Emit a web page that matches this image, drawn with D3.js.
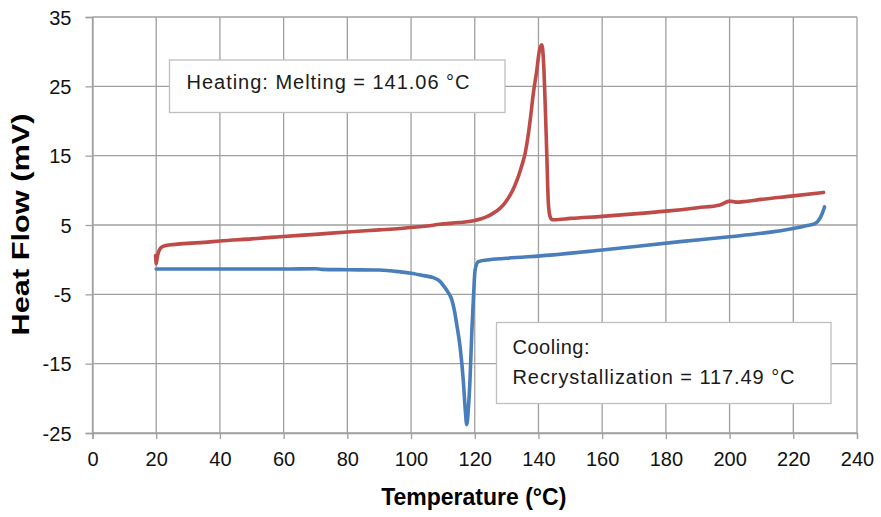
<!DOCTYPE html>
<html>
<head>
<meta charset="utf-8">
<script src="https://cdn.jsdelivr.net/npm/d3@7/dist/d3.min.js"></script>
<style>
  html, body { margin: 0; padding: 0; background: #ffffff; }
  svg { display: block; }
</style>
</head>
<body>
<svg id="chart" width="881" height="517"></svg>
<script>
// DSC trace: heating (melting endotherm drawn upward) and cooling (recrystallization)
const heatTemp = [19.8, 20.0, 20.3, 20.8, 21.5, 23, 26, 30, 35, 40, 50, 60, 70, 80, 90, 96.5,
  105, 109, 115, 119.6, 122, 123.8, 126, 127.9, 129.5, 131.1, 132.5, 133.7, 134.8, 135.8,
  136.6, 137.4, 138.4, 139.5, 140.3, 141.06, 141.6, 142.1, 142.6, 143.1, 143.6, 144.2,
  145, 150, 160, 170, 180, 190, 197, 200, 202, 205, 210, 220, 229.5];
const heatFlow = [0.6, -0.6, 0.3, 1.2, 1.75, 2.05, 2.2, 2.35, 2.5, 2.7, 3.0, 3.35, 3.65, 4.0, 4.3, 4.5,
  4.85, 5.1, 5.35, 5.6, 5.9, 6.2, 6.75, 7.4, 8.2, 9.3, 10.6, 12.0, 13.6, 15.3,
  17.4, 20.1, 24.0, 27.4, 30.2, 31.0, 28.5, 22.6, 15.4, 8.2, 6.3, 5.8,
  5.75, 5.95, 6.25, 6.6, 7.0, 7.5, 7.9, 8.45, 8.3, 8.4, 8.7, 9.2, 9.7];

const coolTemp = [20, 30, 40, 50, 60, 70, 72, 80, 90, 96.5, 100, 104, 107, 109, 110.1, 111.5,
  112.8, 113.6, 114.3, 115.4, 116.4, 117.0, 117.49, 118.0, 118.5, 119.1, 119.6, 120.1,
  121.1, 123.8, 130, 143.6, 160, 184.5, 200, 210, 220, 224, 226.8, 228.4, 229.2, 229.8];
const coolFlow = [-1.35, -1.35, -1.35, -1.35, -1.35, -1.3, -1.4, -1.45, -1.5, -1.75, -1.95, -2.3, -2.6, -3.1, -3.7, -4.6,
  -5.8, -7.3, -9.2, -12.6, -17.4, -21.5, -23.8, -21.5, -17.4, -10.2, -5.4, -1.5,
  -0.3, -0.05, 0.2, 0.65, 1.4, 2.6, 3.3, 3.8, 4.5, 4.9, 5.2, 6.0, 6.8, 7.6];

const xTicks = [0, 20, 40, 60, 80, 100, 120, 140, 160, 180, 200, 220, 240];
const yTicks = [-25, -15, -5, 5, 15, 25, 35];

const heatingNote = ["Heating:  Melting = 141.06 °C"];
const coolingNote = ["Cooling:", "Recrystallization = 117.49 °C"];

const W = 881, H = 517;
const margin = { left: 92.5, right: 24, top: 17, bottom: 84 };
const svg = d3.select("#chart");

const x = d3.scaleLinear().domain([0, 240]).range([margin.left, W - margin.right]);
const y = d3.scaleLinear().domain([-25, 35]).range([H - margin.bottom, margin.top]);

const gridColor = "#a0a0a0";
const labelFont = "'Liberation Sans', Arial, sans-serif";
const plainNumber = d => String(d); // hyphen-minus, as on the printed axis

// gridlines
const grid = svg.append("g");
grid.selectAll("line.h").data(yTicks).join("line")
  .attr("x1", x(0)).attr("x2", x(240))
  .attr("y1", d => y(d)).attr("y2", d => y(d))
  .attr("stroke", gridColor).attr("stroke-width", 1.3);
grid.selectAll("line.v").data(xTicks).join("line")
  .attr("x1", d => x(d)).attr("x2", d => x(d))
  .attr("y1", y(35)).attr("y2", y(-25))
  .attr("stroke", gridColor).attr("stroke-width", 1.3);

// axes
const xAxis = svg.append("g")
  .attr("transform", `translate(0,${y(-25)})`)
  .call(d3.axisBottom(x).tickValues(xTicks).tickSize(6).tickPadding(13).tickFormat(plainNumber));
const yAxis = svg.append("g")
  .attr("transform", `translate(${x(0)},0)`)
  .call(d3.axisLeft(y).tickValues(yTicks).tickSize(7).tickPadding(14).tickFormat(plainNumber));

[xAxis, yAxis].forEach(g => {
  g.select(".domain").attr("stroke", gridColor).attr("stroke-width", 1.3);
  g.selectAll(".tick line").attr("stroke", gridColor).attr("stroke-width", 1.3);
  g.selectAll(".tick text")
    .attr("fill", "#111")
    .style("font-family", labelFont)
    .style("font-size", "20px");
});
yAxis.selectAll(".tick text").attr("dy", "0.36em");

// axis titles
svg.append("text")
  .attr("x", (x(0) + x(240)) / 2 - 1).attr("y", 505)
  .attr("text-anchor", "middle")
  .style("font-family", labelFont).style("font-weight", "bold").style("font-size", "23px")
  .attr("fill", "#000")
  .text("Temperature (°C)");

svg.append("text")
  .attr("transform", `translate(29,${224.5}) rotate(-90)`)
  .attr("text-anchor", "middle")
  .attr("textLength", 222).attr("lengthAdjust", "spacingAndGlyphs")
  .style("font-family", labelFont).style("font-weight", "bold").style("font-size", "24px")
  .attr("fill", "#000")
  .text("Heat Flow (mV)");

// curves
const line = d3.line().x(d => x(d[0])).y(d => y(d[1])).curve(d3.curveMonotoneX);
const heating = heatTemp.map((t, i) => [t, heatFlow[i]]);
const cooling = coolTemp.map((t, i) => [t, coolFlow[i]]);

svg.append("path").datum(cooling)
  .attr("d", line).attr("fill", "none")
  .attr("stroke", "#4a7ebb").attr("stroke-width", 3.6)
  .attr("stroke-linejoin", "round").attr("stroke-linecap", "round");
svg.append("path").datum(heating)
  .attr("d", line).attr("fill", "none")
  .attr("stroke", "#be4b48").attr("stroke-width", 3.6)
  .attr("stroke-linejoin", "round").attr("stroke-linecap", "round");

// annotation boxes
function noteBox(lines, widths, bx, by, bw, bh, tx, ty, lineGap) {
  const g = svg.append("g");
  g.append("rect")
    .attr("x", bx).attr("y", by).attr("width", bw).attr("height", bh)
    .attr("fill", "#ffffff").attr("stroke", "#bfbfbf").attr("stroke-width", 1.3);
  g.selectAll("text").data(lines).join("text")
    .attr("x", tx).attr("y", (d, i) => ty + i * lineGap)
    .attr("textLength", (d, i) => widths[i])
    .attr("lengthAdjust", "spacing")
    .style("font-family", labelFont).style("font-size", "20px")
    .attr("fill", "#1a1a1a")
    .text(d => d);
}
noteBox(heatingNote, [283], 169.5, 60, 335.5, 52.5, 186.5, 88.5, 0);
noteBox(coolingNote, [77, 282], 496.5, 322.5, 334.5, 81, 512.5, 353.5, 30);
</script>
</body>
</html>
